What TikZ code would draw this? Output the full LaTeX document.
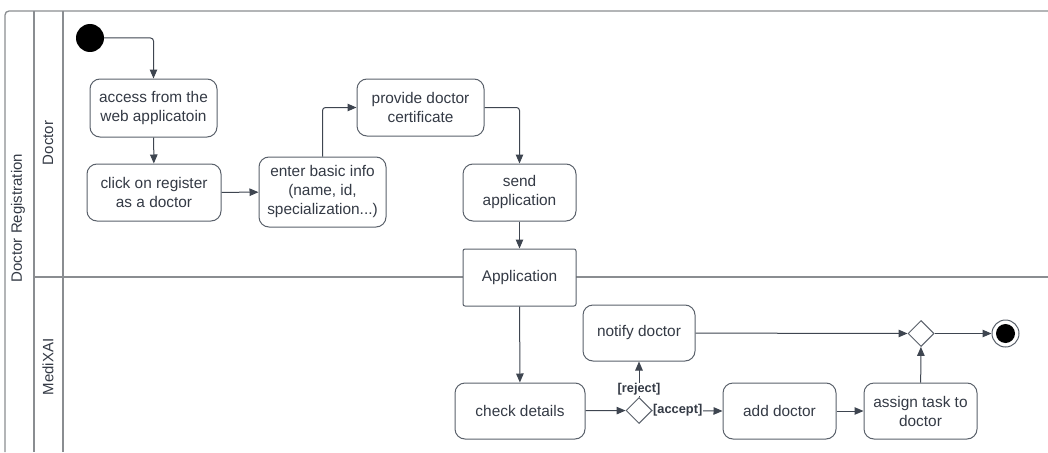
\documentclass[tikz,border=0pt]{standalone}
\usepackage{fontspec}
\setmainfont{Liberation Sans}
\usetikzlibrary{arrows.meta,shapes.geometric}
\definecolor{frame}{HTML}{8A8D91}
\definecolor{boxline}{HTML}{5A616B}
\definecolor{txt}{HTML}{343A45}
\definecolor{arr}{HTML}{3E4550}
\tikzset{
  act/.style={draw=boxline, line width=1pt, rounded corners=10pt, fill=white,
    text=txt, align=center, inner sep=0pt,
    font=\fontsize{15.4}{19}\selectfont},
  objbox/.style={draw=boxline, line width=1pt, rounded corners=2pt, fill=white,
    text=txt, align=center, inner sep=0pt,
    font=\fontsize{15.4}{19}\selectfont},
  flow/.style={draw=arr, line width=1pt, -{Triangle[length=9pt,width=7.5pt]}},
  dia/.style={draw=boxline, line width=1pt, diamond, fill=white,
    minimum width=26pt, minimum height=26pt, inner sep=0pt},
  guard/.style={font=\bfseries\fontsize{12.8}{14}\selectfont, text=txt,
    fill=white, inner sep=0.5pt},
  lanetitle/.style={font=\fontsize{15}{17}\selectfont, text=txt, rotate=90},
  lane/.style={draw=frame, line width=1.3pt}
}
\begin{document}
\begin{tikzpicture}[x=1pt,y=-1pt]
\useasboundingbox (0,0) rectangle (1048,452);
% frame
\draw[lane, rounded corners=4pt] (5,452) -- (5,11) -- (1048,11);
\draw[lane] (34,11) -- (34,452);
\draw[lane] (63,11) -- (63,452);
\draw[lane] (34,277) -- (1048,277);
\node[lanetitle] (pool) at (18,218) {Doctor Registration};
\node[lanetitle] (l1) at (48,143) {Doctor};
\node[lanetitle] (l2) at (48,367) {MediXAI};
% nodes
\node[circle, fill=black, minimum size=28pt, inner sep=0pt] (start) at (90,38) {};
\node[act, minimum width=127pt, minimum height=58pt] (access) at (153.5,108) {access from the\\web applicatoin};
\node[act, minimum width=134pt, minimum height=57pt] (click) at (154,192.5) {click on register\\as a doctor};
\node[act, minimum width=127pt, minimum height=70pt] (enter) at (322.5,192) {enter basic info\\(name, id,\\specialization...)};
\node[act, minimum width=127pt, minimum height=57pt] (provide) at (420.5,107.5) {provide doctor\\certificate};
\node[act, minimum width=113pt, minimum height=57pt] (send) at (519.5,192.5) {send\\application};
\node[objbox, minimum width=113pt, minimum height=57pt] (app) at (519.5,277.5) {Application};
\node[act, minimum width=130pt, minimum height=56pt] (check) at (520,411) {check details};
\node[act, minimum width=112pt, minimum height=56pt] (notify) at (639,333) {notify doctor};
\node[dia] (d1) at (639,410.5) {};
\node[act, minimum width=113pt, minimum height=56pt] (add) at (779.5,411) {add doctor};
\node[act, minimum width=113pt, minimum height=56pt] (assign) at (920.5,411) {assign task to\\doctor};
\node[dia] (merge) at (921,333.5) {};
\node[circle, draw=boxline, line width=1pt, fill=white, minimum size=27pt, inner sep=0pt] (end) at (1005.5,333.5) {};
\node[circle, fill=black, minimum size=19pt, inner sep=0pt] (endin) at (end.center) {};
% flows
\draw[flow, rounded corners=3pt] (start.east) -- (access.north |- start.east) -- (access.north);
\draw[flow] (access) -- (click);
\draw[flow] (click) -- (enter);
\draw[flow, rounded corners=3pt] (enter.north) -- (enter.north |- provide.west) -- (provide.west);
\draw[flow, rounded corners=3pt] (provide.east) -- (send.north |- provide.east) -- (send.north);
\draw[flow] (send) -- (app);
\draw[flow] (app) -- (check);
\draw[flow] (check) -- (d1);
\draw[flow] (d1.north) -- (notify.south) node[guard, pos=0.22] (rej) {[reject]};
\draw[flow] (d1.east) -- (add.west);
\node[guard, anchor=west] (acc) at (d1.east) {[accept]};
\draw[flow] (add) -- (assign);
\draw[flow] (assign) -- (merge);
\draw[flow] (notify) -- (merge);
\draw[flow] (merge) -- (end);
\end{tikzpicture}
\end{document}
